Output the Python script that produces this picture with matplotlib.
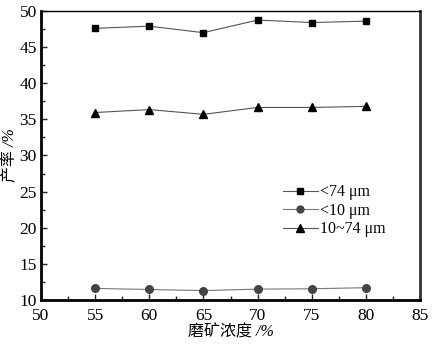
import matplotlib
matplotlib.use("Agg")
import matplotlib.pyplot as plt
from matplotlib.ticker import MultipleLocator

# data
density = [55, 60, 65, 70, 75, 80]
yield_lt74 = [47.6, 47.9, 47.0, 48.75, 48.4, 48.6]
yield_lt10 = [11.6, 11.45, 11.3, 11.5, 11.55, 11.7]
yield_10_74 = [35.95, 36.35, 35.7, 36.65, 36.65, 36.8]
labels = ['<74 μm', '<10 μm', '10~74 μm']

plt.rcParams['font.family'] = ['Liberation Serif', 'Noto Sans CJK SC']

fig = plt.figure(figsize=(4.4, 3.44), dpi=100)
ax = fig.add_axes([0.093, 0.128, 0.862, 0.84])

ax.plot(density, yield_lt74, color='#555555', lw=0.8, marker='s', ms=5,
        mfc='black', mec='black', label=labels[0])
ax.plot(density, yield_lt10, color='#777777', lw=0.8, marker='o', ms=5.5,
        mfc='#444444', mec='#444444', label=labels[1])
ax.plot(density, yield_10_74, color='#555555', lw=0.8, marker='^', ms=6,
        mfc='black', mec='black', label=labels[2])

ax.set_xlim(50, 85)
ax.set_ylim(10, 50)
ax.xaxis.set_major_locator(MultipleLocator(5))
ax.xaxis.set_minor_locator(MultipleLocator(2.5))
ax.yaxis.set_major_locator(MultipleLocator(5))
ax.yaxis.set_minor_locator(MultipleLocator(2.5))
ax.tick_params(which='both', direction='in', top=False, right=False,
               labelsize=12.5, width=1, color='#222222', pad=3)
ax.tick_params(axis='x', which='both', pad=6)
ax.tick_params(which='major', length=4)
ax.tick_params(which='minor', length=3)

ax.spines['left'].set_linewidth(2)
ax.spines['bottom'].set_linewidth(2)
ax.spines['right'].set_linewidth(2)
ax.spines['right'].set_color('#333333')
ax.spines['top'].set_linewidth(1)

ax.set_xlabel('磨矿浓度 /%', fontsize=11.5, style='italic', labelpad=0)
ax.set_ylabel('产率 /%', fontsize=11.5, style='italic', labelpad=1)

ax.legend(loc='upper left', bbox_to_anchor=(0.6, 0.45), frameon=False,
          fontsize=11.5, handlelength=2.2, handletextpad=0.1, labelspacing=0.15,
          markerscale=0.9)

fig.savefig('out.png', dpi=100)
